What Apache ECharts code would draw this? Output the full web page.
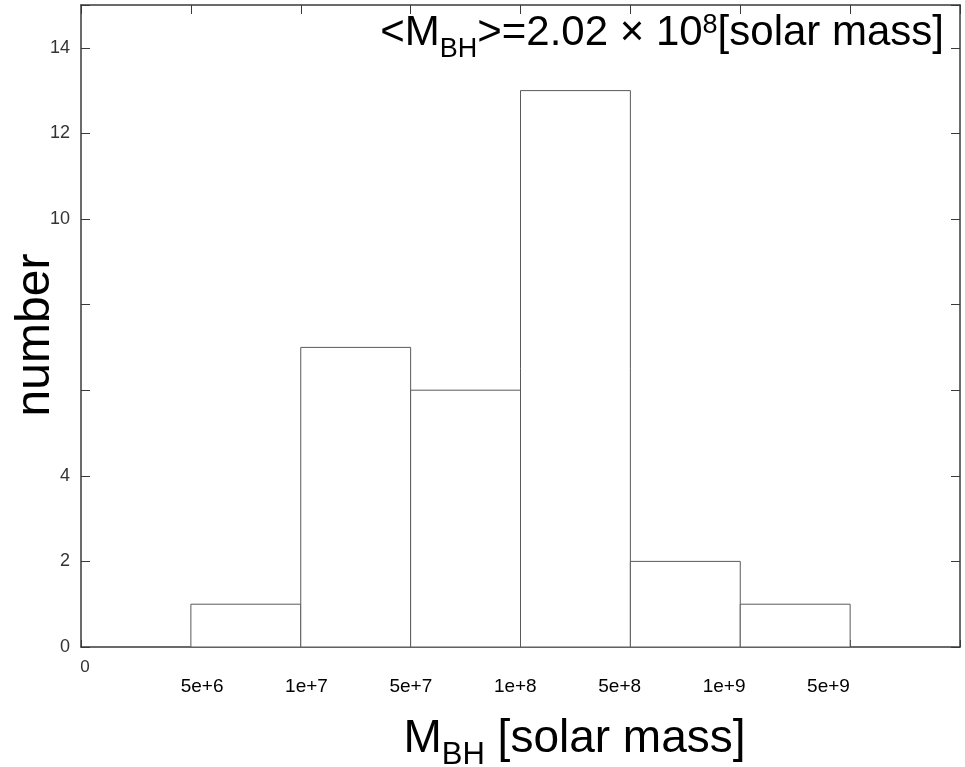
<!DOCTYPE html>
<html>
<head>
<meta charset="utf-8">
<title>M_BH histogram</title>
<script src="https://cdn.jsdelivr.net/npm/echarts@6/dist/echarts.min.js"></script>
<style>
  html, body { margin: 0; padding: 0; background: #fff; }
  #main { width: 965px; height: 767px; }
</style>
</head>
<body>
<div id="main"></div>
<script>
// bins between the tick marks (left to right)
var binNames   = ["<5e+6", "5e+6-1e+7", "1e+7-5e+7", "5e+7-1e+8", "1e+8-5e+8", "5e+8-1e+9", "1e+9-5e+9", ">5e+9"];
var binCounts  = [0, 1, 7, 6, 13, 2, 1, 0];
// labels on the bin edges 1..7
var edgeValues = [1, 2, 3, 4, 5, 6, 7];
var edgeLabels = ["5e+6", "1e+7", "5e+7", "1e+8", "5e+8", "1e+9", "5e+9"];
// y ticks, 6 and 8 have no label in the original
var yTickValues = [0, 2, 4, 6, 8, 10, 12, 14];
var yTickLabels = ["0", "2", "4", "", "", "10", "12", "14"];

var FONT = "'Liberation Sans', Arial, Helvetica, sans-serif";
var LINE = "#3a3a3a";

var myChart = echarts.init(document.getElementById("main"));

var binData = binCounts.map(function (c, i) { return [i, c, binNames[i]]; });

myChart.setOption({
    backgroundColor: "#fff",
    animation: false,
    textStyle: { fontFamily: FONT },
    //平均值标注
    title: {
        text: "{m|<M}{s|BH}{m|>=2.02 × 10}{p|8}{m|[solar mass]}",
        right: 21,
        top: 3,
        padding: 0,
        textStyle: {
            fontWeight: "normal",
            rich: {
                m: { fontSize: 42, fontWeight: "normal", fontFamily: FONT, color: "#000", lineHeight: 60, verticalAlign: "middle" },
                s: { fontSize: 27, fontWeight: "normal", fontFamily: FONT, color: "#000", lineHeight: 27, verticalAlign: "bottom" },
                p: { fontSize: 27, fontWeight: "normal", fontFamily: FONT, color: "#000", verticalAlign: "top", padding: [9, 0, 0, 0] }
            }
        }
    },
    grid: { left: 81, right: 5, top: 5, bottom: 120, outerBoundsMode: "none" },
    xAxis: [
        {
            // main axis: bins 0..8, only "0" label at origin
            type: "value", min: 0, max: 8, interval: 1,
            position: "bottom",
            axisLine: { show: true, onZero: false, lineStyle: { color: LINE, width: 1.5 } },
            axisTick: { show: true, inside: true, length: 7, lineStyle: { color: LINE } },
            splitLine: { show: false },
            axisLabel: {
                customValues: [0], margin: 12,
                formatter: function () { return "0"; },
                fontSize: 17, color: "#333", fontFamily: FONT, padding: [0, 0, 0, 8]
            },
            name: "{m|M}{s|BH}{m| [solar mass]}",
            nameLocation: "middle",
            nameGap: 60,
            nameTextStyle: {
                padding: [0, 0, 0, 108],
                rich: {
                    m: { fontSize: 46, fontFamily: FONT, color: "#000", lineHeight: 64, verticalAlign: "middle" },
                    s: { fontSize: 31, fontFamily: FONT, color: "#000", lineHeight: 31, verticalAlign: "bottom" }
                }
            }
        },
        {
            // edge labels, spaced like the original picture
            type: "value", min: -0.16, max: 8.26,
            position: "bottom",
            axisLine: { show: false, onZero: false },
            axisTick: { show: false },
            splitLine: { show: false },
            axisLabel: {
                customValues: edgeValues, margin: 30,
                formatter: function (v) { return edgeLabels[edgeValues.indexOf(v)] || ""; },
                fontSize: 19, color: "#000", fontFamily: FONT
            }
        },
        {
            // top frame with ticks
            type: "value", min: 0, max: 8, interval: 1,
            position: "top",
            axisLine: { show: true, onZero: false, lineStyle: { color: LINE, width: 1.5 } },
            axisTick: { show: true, inside: true, length: 9, lineStyle: { color: LINE } },
            axisLabel: { show: false },
            splitLine: { show: false }
        }
    ],
    yAxis: [
        {
            type: "value", min: 0, max: 15, interval: 2,
            position: "left",
            axisLine: { show: true, onZero: false, lineStyle: { color: LINE, width: 1.5 } },
            axisTick: { show: true, inside: true, length: 9, lineStyle: { color: LINE } },
            splitLine: { show: false },
            axisLabel: {
                margin: 11, fontSize: 18, color: "#333", fontFamily: FONT,
                formatter: function (v) {
                    var k = yTickValues.indexOf(v);
                    return k < 0 ? "" : yTickLabels[k];
                }
            },
            name: "number",
            nameLocation: "middle",
            nameGap: 21,
            nameMoveOverlap: false,
            nameTextStyle: { fontSize: 48, color: "#000", fontFamily: FONT, padding: [0, 18, 0, 0] }
        },
        {
            // right frame with ticks
            type: "value", min: 0, max: 15, interval: 2,
            position: "right",
            axisLine: { show: true, onZero: false, lineStyle: { color: LINE, width: 1.5 } },
            axisTick: { show: true, inside: true, length: 9, lineStyle: { color: LINE } },
            axisLabel: { show: false },
            splitLine: { show: false }
        }
    ],
    series: [
        {
            name: "number",
            type: "custom",
            xAxisIndex: 0,
            yAxisIndex: 0,
            data: binData,
            renderItem: function (params, api) {
                var i = api.value(0);
                var c = api.value(1);
                if (!c) return null;
                var p0 = api.coord([i, c]);
                var p1 = api.coord([i + 1, 0]);
                return {
                    type: "rect",
                    shape: { x: p0[0], y: p0[1], width: p1[0] - p0[0], height: p1[1] - p0[1] },
                    style: { fill: "#fff", stroke: "#5a5a5a", lineWidth: 1 }
                };
            },
            z: 1
        }
    ]
});
</script>
</body>
</html>
